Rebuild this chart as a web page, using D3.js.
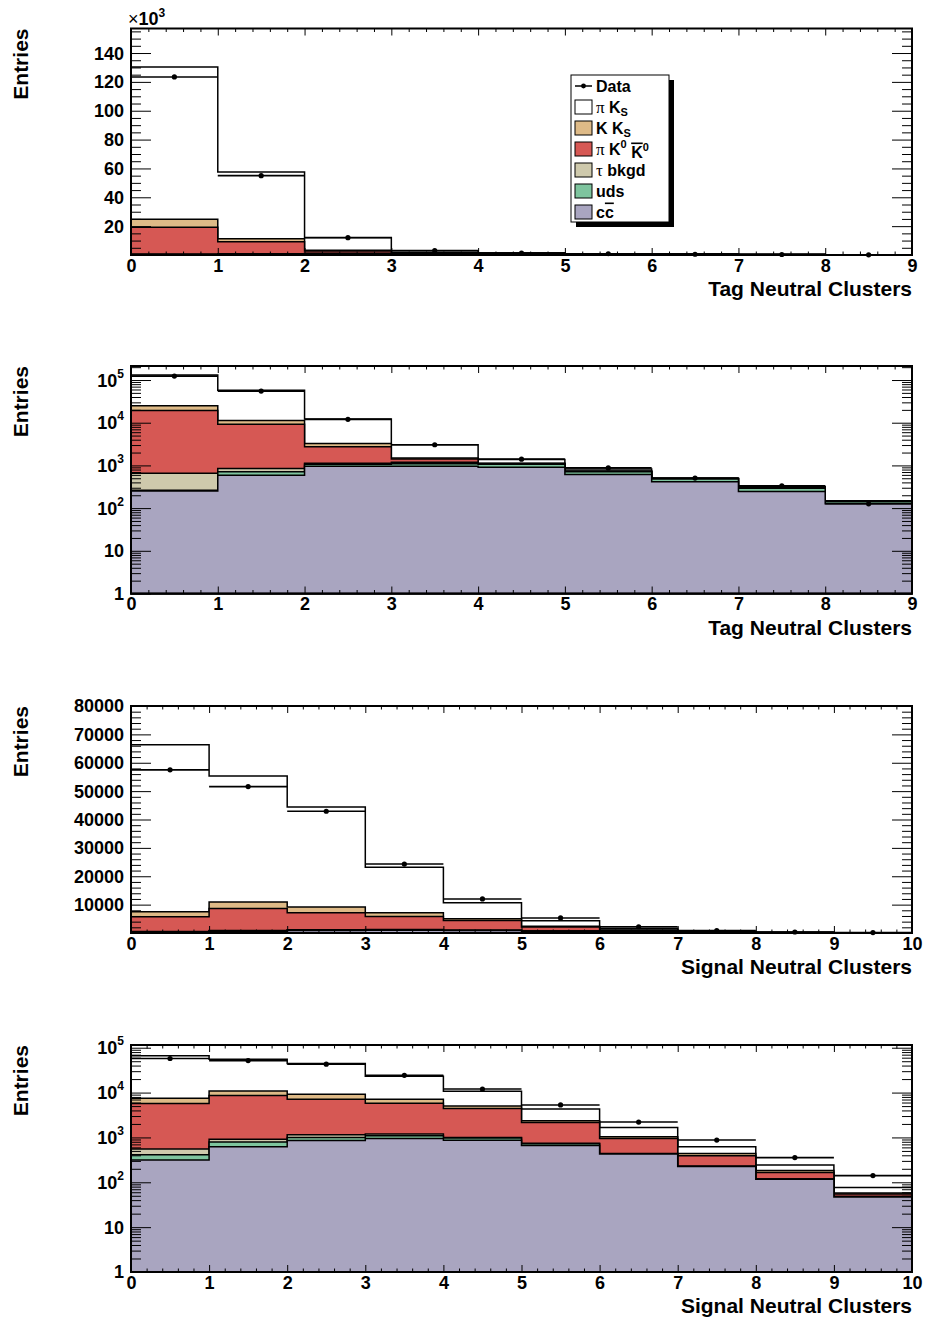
<!DOCTYPE html>
<html>
<head>
<meta charset="utf-8">
<script src="https://cdn.jsdelivr.net/npm/d3@7"></script>
<style>
  body { margin: 0; background: #fff; }
  svg { display: block; font-family: "Liberation Sans", Arial, Helvetica, sans-serif; font-weight: bold; }
  .serif { font-family: "Liberation Serif", "Times New Roman", serif; font-weight: normal; }
</style>
</head>
<body>
<svg id="chart" width="926" height="1319"></svg>
<script>
// ---- Tag-side neutral cluster multiplicity (bins 0..8) ----
const tagBins = [0, 1, 2, 3, 4, 5, 6, 7, 8];
const tagCC     = [253, 590, 960, 960, 900, 615, 415, 245, 126];
const tagUDS    = [10, 120, 110, 140, 170, 95, 63, 45, 14];
const tagTau    = [390, 140, 50, 80, 10, 10, 5, 5, 2];
const tagPiK0K0 = [18550, 8350, 1610, 230, 30, 10, 5, 5, 2];
const tagKKs    = [5600, 2100, 520, 90, 10, 5, 2, 2, 1];
const tagPiKs   = [105500, 46300, 8950, 1530, 260, 90, 20, 18, 3];
const tagData   = [123400, 55000, 12000, 3050, 1400, 875, 505, 333, 126];

// ---- Signal-side neutral cluster multiplicity (bins 0..9) ----
const sigBins = [0, 1, 2, 3, 4, 5, 6, 7, 8, 9];
const sigCC     = [315, 620, 850, 950, 870, 660, 427, 225, 117, 47];
const sigUDS    = [97, 170, 150, 140, 100, 60, 8, 2, 2, 1];
const sigTau    = [138, 120, 150, 100, 30, 20, 5, 0, 0, 0];
const sigPiK0K0 = [5150, 7690, 5950, 4610, 3400, 1410, 510, 163, 47, 7];
const sigKKs    = [1800, 2300, 2100, 1300, 600, 200, 90, 50, 16, 3];
const sigPiKs   = [58800, 44400, 35200, 16100, 5700, 1950, 620, 180, 61, 19];
const sigData   = [57500, 51600, 42900, 24300, 12000, 5300, 2200, 875, 355, 141];

// Stack components, bottom to top
const componentNames  = ["cc", "uds", "tau", "piK0K0", "KKs", "piKs"];
const componentColors = ["#a9a5c0", "#7ec49e", "#cec9ac", "#d65854", "#deba87", "#ffffff"];

// Axis ticks / titles
const tagTicks = [0, 1, 2, 3, 4, 5, 6, 7, 8, 9];
const sigTicks = [0, 1, 2, 3, 4, 5, 6, 7, 8, 9, 10];
const linTagTicks = [20000, 40000, 60000, 80000, 100000, 120000, 140000];
const linSigTicks = [10000, 20000, 30000, 40000, 50000, 60000, 70000, 80000];
const logTicks = [1, 10, 100, 1000, 10000, 100000];
const xTitles = ["Tag Neutral Clusters", "Signal Neutral Clusters"];
const yTitle = "Entries";

const svg = d3.select("#chart");
const X0 = 131, X1 = 912;

function cumulate(layers) {
  const out = [];
  layers.forEach((l, k) => out.push(l.map((v, i) => v + (k ? out[k - 1][i] : 0))));
  return out;
}

function drawPanel(cfg) {
  const g = svg.append("g");
  const n = cfg.bins.length;
  const x = d3.scaleLinear().domain([0, n]).range([X0, X1]);
  const y = cfg.log
    ? d3.scaleLog().domain(cfg.yDomain).range([cfg.bottom, cfg.top])
    : d3.scaleLinear().domain(cfg.yDomain).range([cfg.bottom, cfg.top]);
  const yv = v => y(cfg.log ? Math.max(v, 1) : v);

  // stacked histograms, drawn from the cumulative total downward
  const cum = cumulate(cfg.layers);
  const area = d3.area()
    .x(d => x(d[0]))
    .y0(cfg.bottom)
    .y1(d => yv(d[1]))
    .curve(d3.curveStepAfter);
  for (let k = cum.length - 1; k >= 0; k--) {
    const pts = cfg.bins.map((b, i) => [b, cum[k][i]]);
    pts.push([cfg.bins[n - 1] + 1, cum[k][n - 1]]);
    g.append("path")
      .attr("d", area(pts))
      .attr("fill", componentColors[k])
      .attr("stroke", "#000")
      .attr("stroke-width", 1.5)
      .attr("stroke-linejoin", "miter");
  }

  // data points with bin-width horizontal bars
  const dg = g.append("g");
  dg.selectAll("line").data(cfg.data).join("line")
    .attr("x1", (d, i) => x(cfg.bins[i]))
    .attr("x2", (d, i) => x(cfg.bins[i] + 1))
    .attr("y1", d => yv(d)).attr("y2", d => yv(d))
    .attr("stroke", "#000").attr("stroke-width", 1.6);
  dg.selectAll("circle").data(cfg.data).join("circle")
    .attr("cx", (d, i) => x(cfg.bins[i] + 0.5))
    .attr("cy", d => yv(d))
    .attr("r", 2.6).attr("fill", "#000");

  // axes: ticks on all four sides, pointing inward
  const xMinor = d3.range(0, n * 5 + 1).map(i => i / 5).filter(v => Math.abs(v - Math.round(v)) > 1e-9);
  let yMajor, yMinor;
  if (cfg.log) {
    yMajor = logTicks.filter(v => v <= cfg.yDomain[1]);
    yMinor = [];
    logTicks.forEach(d => { for (let m = 2; m <= 9; m++) if (m * d < cfg.yDomain[1]) yMinor.push(m * d); });
  } else {
    yMajor = d3.range(0, cfg.yDomain[1] + 1, cfg.yStep);
    yMinor = d3.range(0, cfg.yDomain[1] + 1, cfg.yMinorStep).filter(v => v % cfg.yStep !== 0);
  }

  const styleAxis = sel => {
    sel.select(".domain").remove();
    sel.selectAll(".tick line").attr("stroke", "#000").attr("stroke-width", 1);
    sel.selectAll(".tick text").attr("fill", "#000").attr("font-size", 18)
      .attr("font-family", null);
  };

  g.append("g").attr("transform", `translate(0,${cfg.bottom})`)
    .call(d3.axisBottom(x).tickValues(cfg.xTicks).tickSize(-7).tickPadding(4).tickFormat(d3.format("d")))
    .call(styleAxis);
  g.append("g").attr("transform", `translate(0,${cfg.bottom})`)
    .call(d3.axisBottom(x).tickValues(xMinor).tickSize(-3.5).tickFormat(""))
    .call(styleAxis);
  g.append("g").attr("transform", `translate(0,${cfg.top})`)
    .call(d3.axisTop(x).tickValues(cfg.xTicks).tickSize(-7).tickFormat(""))
    .call(styleAxis);
  g.append("g").attr("transform", `translate(0,${cfg.top})`)
    .call(d3.axisTop(x).tickValues(xMinor).tickSize(-3.5).tickFormat(""))
    .call(styleAxis);

  g.append("g").attr("transform", `translate(${X0},0)`)
    .call(d3.axisLeft(y).tickValues(yMajor).tickSize(-20).tickPadding(7).tickFormat(""))
    .call(styleAxis);
  g.append("g").attr("transform", `translate(${X0},0)`)
    .call(d3.axisLeft(y).tickValues(yMinor).tickSize(-10).tickFormat(""))
    .call(styleAxis);
  g.append("g").attr("transform", `translate(${X1},0)`)
    .call(d3.axisRight(y).tickValues(yMajor).tickSize(-20).tickFormat(""))
    .call(styleAxis);
  g.append("g").attr("transform", `translate(${X1},0)`)
    .call(d3.axisRight(y).tickValues(yMinor).tickSize(-10).tickFormat(""))
    .call(styleAxis);

  // y tick labels
  const lab = g.append("g").attr("font-size", 18).attr("text-anchor", "end");
  cfg.yLabels.forEach(v => {
    const t = lab.append("text").attr("x", X0 - 7).attr("y", y(v)).attr("dy", "0.36em");
    if (cfg.log) {
      const e = Math.round(Math.log10(v));
      if (e === 0) t.text("1");
      else if (e === 1) t.text("10");
      else {
        t.append("tspan").text("10");
        t.append("tspan").attr("font-size", 12).attr("dy", "-0.75em").text(e);
      }
    } else {
      t.text(d3.format("d")(v / cfg.labelScale));
    }
  });

  // frame
  g.append("rect")
    .attr("x", X0).attr("y", cfg.top)
    .attr("width", X1 - X0).attr("height", cfg.bottom - cfg.top)
    .attr("fill", "none").attr("stroke", "#000").attr("stroke-width", 2);

  // titles
  g.append("text")
    .attr("x", X1).attr("y", cfg.bottom + 41)
    .attr("text-anchor", "end").attr("font-size", 21)
    .text(cfg.xTitle);
  g.append("text")
    .attr("transform", `translate(28,${cfg.top}) rotate(-90)`)
    .attr("text-anchor", "end").attr("font-size", 21)
    .text(yTitle);
  return { g, x, y };
}

const tagLayers = [tagCC, tagUDS, tagTau, tagPiK0K0, tagKKs, tagPiKs];
const sigLayers = [sigCC, sigUDS, sigTau, sigPiK0K0, sigKKs, sigPiKs];

const p1 = drawPanel({
  top: 28.5, bottom: 255, bins: tagBins, layers: tagLayers, data: tagData,
  log: false, yDomain: [0, 157000], yStep: 20000, yMinorStep: 5000,
  yLabels: linTagTicks, labelScale: 1000, xTicks: tagTicks, xTitle: xTitles[0]
});
drawPanel({
  top: 366, bottom: 593.5, bins: tagBins, layers: tagLayers, data: tagData,
  log: true, yDomain: [1, 213000], yLabels: logTicks, xTicks: tagTicks, xTitle: xTitles[0]
});
drawPanel({
  top: 706, bottom: 933, bins: sigBins, layers: sigLayers, data: sigData,
  log: false, yDomain: [0, 80000], yStep: 10000, yMinorStep: 2000,
  yLabels: linSigTicks, labelScale: 1, xTicks: sigTicks, xTitle: xTitles[1]
});
drawPanel({
  top: 1045, bottom: 1272, bins: sigBins, layers: sigLayers, data: sigData,
  log: true, yDomain: [1, 115000], yLabels: logTicks, xTicks: sigTicks, xTitle: xTitles[1]
});

// axis multiplier on the first panel
const mult = p1.g.append("text").attr("x", 128).attr("y", 25).attr("font-size", 18);
mult.append("tspan").attr("font-weight", "normal").text("\u00d7");
mult.append("tspan").text("10");
mult.append("tspan").attr("font-size", 12).attr("dy", "-0.7em").text("3");

// legend
const legendKeys = ["data", "piKs", "KKs", "piK0K0", "tau", "uds", "cc"];
const legendColors = { piKs: componentColors[5], KKs: componentColors[4], piK0K0: componentColors[3],
                       tau: componentColors[2], uds: componentColors[1], cc: componentColors[0] };
const lg = p1.g.append("g");
const LX = 571, LY = 75, LW = 98, LH = 147, ROW = 21;
lg.append("rect").attr("x", LX + 5).attr("y", LY + 5).attr("width", LW).attr("height", LH).attr("fill", "#000");
lg.append("rect").attr("x", LX).attr("y", LY).attr("width", LW).attr("height", LH)
  .attr("fill", "#fff").attr("stroke", "#000").attr("stroke-width", 1);

legendKeys.forEach((key, i) => {
  const cy = LY + ROW / 2 + 0.5 + ROW * i;
  if (key === "data") {
    lg.append("line").attr("x1", LX + 4).attr("x2", LX + 21).attr("y1", cy).attr("y2", cy)
      .attr("stroke", "#000").attr("stroke-width", 1.5);
    lg.append("circle").attr("cx", LX + 12.5).attr("cy", cy).attr("r", 2.4).attr("fill", "#000");
  } else {
    lg.append("rect").attr("x", LX + 4).attr("y", cy - 7).attr("width", 17).attr("height", 14)
      .attr("fill", legendColors[key]).attr("stroke", "#000").attr("stroke-width", 1);
  }
  const t = lg.append("text").attr("x", LX + 25).attr("y", cy + 5.5).attr("font-size", 16);
  const sym = s => t.append("tspan").attr("class", "serif").attr("font-size", 17).text(s);
  const sub = s => t.append("tspan").attr("font-size", 11).attr("dy", "0.35em").text(s);
  const sup = s => t.append("tspan").attr("font-size", 11).attr("dy", "-0.6em").text(s);
  if (key === "data") t.append("tspan").text("Data");
  if (key === "piKs") { sym("\u03c0"); t.append("tspan").text(" K"); sub("S"); }
  if (key === "KKs") { t.append("tspan").text("K K"); sub("S"); }
  if (key === "piK0K0") {
    sym("\u03c0"); t.append("tspan").text(" K");
    sup("0");
    t.append("tspan").attr("dy", "0.6em").attr("font-size", 16).text(" ");
    t.append("tspan").style("text-decoration", "overline").text("K");
    sup("0");
  }
  if (key === "tau") { sym("\u03c4"); t.append("tspan").text(" bkgd"); }
  if (key === "uds") t.append("tspan").text("uds");
  if (key === "cc") { t.append("tspan").text("c"); t.append("tspan").style("text-decoration", "overline").text("c"); }
});
</script>
</body>
</html>
